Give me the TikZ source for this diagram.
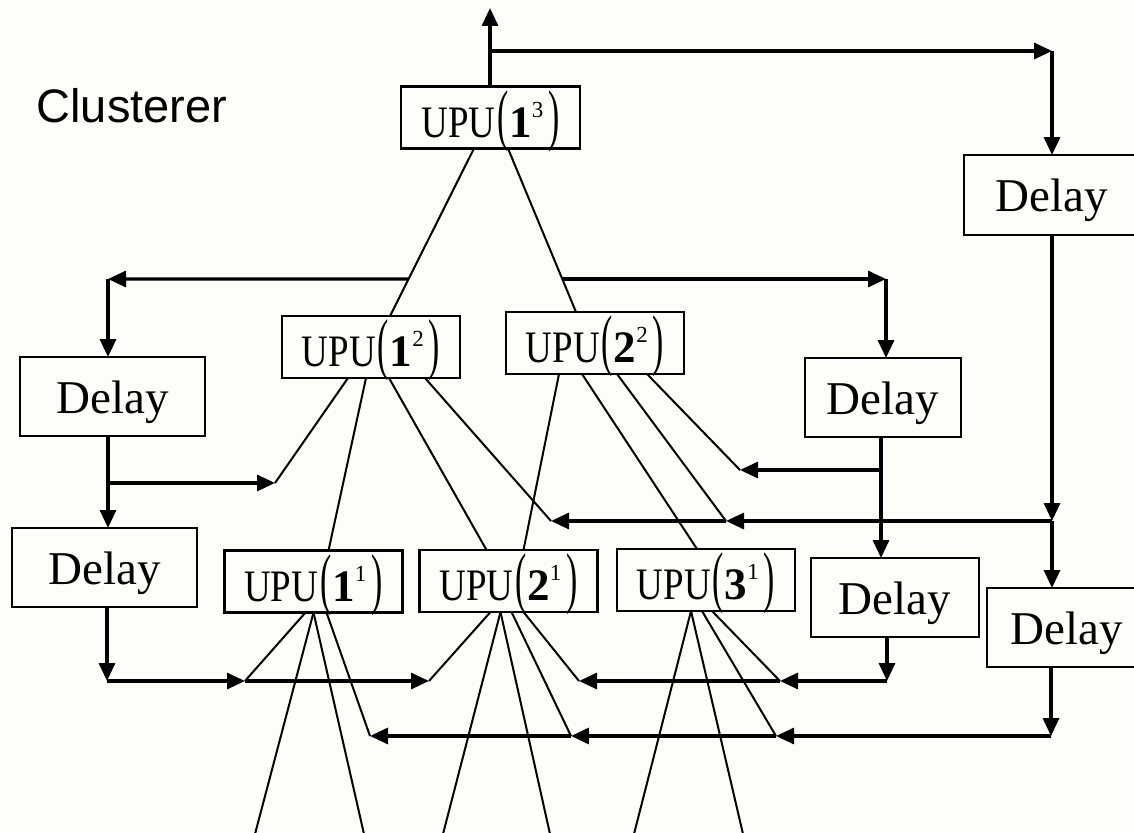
\documentclass[tikz,border=0pt]{standalone}
\usepackage{fontspec}
\setmainfont{Liberation Serif}
\newfontfamily\labelsans{Liberation Sans}
\usetikzlibrary{arrows.meta,calc}

% label of a processing unit: UPU(n^k) with a bold index and tall parentheses
\newcommand\upulabel[2]{%
  \scalebox{0.82}[1]{UPU}\kern2pt
  \scalebox{0.75}[1.5]{(}\kern1pt\textbf{#1}%
  \raisebox{20pt}{\fontsize{23}{23}\selectfont #2}\kern5pt
  \scalebox{0.75}[1.5]{)}}

\definecolor{paper}{RGB}{255,253,248}

\begin{document}
\begin{tikzpicture}[x=1pt,y=-1pt,
  box/.style={draw, line width=2.3pt, inner sep=0pt, outer sep=0pt},
  delaybox/.style={box, font=\fontsize{47}{50}\selectfont,
    text height=33pt, text depth=0pt, minimum height=79pt},
  upubox/.style={box, font=\fontsize{45}{48}\selectfont,
    text height=39pt, text depth=0pt, minimum width=178pt, minimum height=62pt},
  conn/.style={line width=3.2pt, -{Triangle[length=18pt,width=16pt]}},
  link/.style={line width=2pt},
]
\useasboundingbox (0,0) rectangle (1134,832);
\fill[paper] (0,0) rectangle (1134,832);

\node[anchor=base west, font=\labelsans\fontsize{47}{50}\selectfont] (title) at (33,123) {Clusterer};

% processing units
\node[upubox, minimum width=179pt] (u13) at (490.5,117.5) {\upulabel{1}{3}};
\node[upubox] (u12) at (371,347)   {\upulabel{1}{2}};
\node[upubox] (u22) at (595,343)   {\upulabel{2}{2}};
\node[upubox] (u11) at (313.5,581.5) {\upulabel{1}{1}};
\node[upubox] (u21) at (508.5,581) {\upulabel{2}{1}};
\node[upubox] (u31) at (706,580)   {\upulabel{3}{1}};

% delay elements
\node[delaybox, minimum width=176pt, minimum height=80pt] (d0) at (1052,195) {Delay};
\node[delaybox, minimum width=185pt] (d1) at (112.5,396.5) {Delay};
\node[delaybox, minimum width=156pt] (d2) at (883,397.5) {Delay};
\node[delaybox, minimum width=168pt] (d3) at (895,597.5) {Delay};
\node[delaybox, minimum width=160pt] (d4) at (1067,627.5) {Delay};
\node[delaybox, minimum width=185pt] (d5) at (104.5,567.5) {Delay};

% output of the top unit and feedback to the right delay
\coordinate (out) at (490,8);
\coordinate (j0) at (490,51);
\coordinate (c0) at (1052,51);
\draw[conn] (u13.north -| out) -- (out);
\draw[conn] (j0) -- (c0);
\draw[conn] (c0) -- (c0 |- d0.north);

% links from the top unit to the second level
\coordinate (t1) at ([xshift=73pt]u13.south west);
\coordinate (t2) at ([xshift=107pt]u13.south west);
\coordinate (m1) at ([xshift=108pt]u12.north west);
\coordinate (m2) at ([xshift=70pt]u22.north west);
\draw[link] (t1) -- (m1);
\draw[link] (t2) -- (m2);
\path (intersection cs: first line={(t1)--(m1)}, second line={(0,279)--(100,279)}) coordinate (jL);
\path (intersection cs: first line={(t2)--(m2)}, second line={(0,279)--(100,279)}) coordinate (jR);
\coordinate (cL) at (108,279);
\coordinate (cR) at (886,279);
\draw[conn] (jL) -- (cL);
\draw[conn] (cL) -- (cL |- d1.north);
\draw[conn] (jR) -- (cR);
\draw[conn] (cR) -- (cR |- d2.north);

% left delay chain
\coordinate (jD1) at (108,483);
\coordinate (aL) at (275,483);
\draw[conn] (jD1 |- d1.south) -- (jD1 |- d5.north);
\draw[conn] (jD1) -- (aL);

% right delay chain
\coordinate (jD2) at (881,470);
\coordinate (a470) at (740,470);
\draw[conn] (jD2 |- d2.south) -- (jD2 |- d3.north);
\draw[conn] (jD2) -- (a470);

\coordinate (jD0) at (1052,521);
\coordinate (a521M) at (726,521);
\coordinate (a521L) at (551,521);
\draw[conn] (jD0 |- d0.south) -- (jD0);
\draw[conn] (jD0) -- (jD0 |- d4.north);
\draw[conn] (jD0) -- (a521M);
\draw[conn] (a521M) -- (a521L);

% links from the second level
\draw[link] ([xshift=66pt]u12.south west) -- (aL);
\draw[link] ([xshift=84pt]u12.south west) -- ([xshift=104pt]u11.north west);
\draw[link] ([xshift=107pt]u12.south west) -- ([xshift=67pt]u21.north west);
\draw[link] ([xshift=143pt]u12.south west) -- (a521L);
\draw[link] ([xshift=53pt]u22.south west) -- ([xshift=104pt]u21.north west);
\draw[link] ([xshift=76pt]u22.south west) -- ([xshift=80pt]u31.north west);
\draw[link] ([xshift=111pt]u22.south west) -- (a521M);
\draw[link] ([xshift=141pt]u22.south west) -- (a470);

% bottom buses
\coordinate (c5) at (107,681);
\coordinate (a681a) at (245,681);
\coordinate (a681b) at (429,681);
\draw[conn] (c5 |- d5.south) -- (c5);
\draw[conn] (c5) -- (a681a);
\draw[conn] (a681a) -- (a681b);

\coordinate (c3) at (887,681);
\coordinate (a681d) at (780,681);
\coordinate (a681c) at (579,681);
\draw[conn] (c3 |- d3.south) -- (c3);
\draw[conn] (c3) -- (a681d);
\draw[conn] (a681d) -- (a681c);

\coordinate (c4) at (1051,736);
\coordinate (a736R) at (776,736);
\coordinate (a736M) at (571,736);
\coordinate (a736L) at (370,736);
\draw[conn] (c4 |- d4.south) -- (c4);
\draw[conn] (c4) -- (a736R);
\draw[conn] (a736R) -- (a736M);
\draw[conn] (a736M) -- (a736L);

% links from the first level
\coordinate (b1) at (255,834);
\coordinate (b2) at (364,834);
\coordinate (b3) at (443,834);
\coordinate (b4) at (550,834);
\coordinate (b5) at (634,834);
\coordinate (b6) at (743,834);

\draw[link] ([xshift=81pt]u11.south west) -- (a681a);
\draw[link] ([xshift=89pt]u11.south west) -- (b1);
\draw[link] ([xshift=89pt]u11.south west) -- (b2);
\draw[link] ([xshift=102pt]u11.south west) -- (a736L);

\draw[link] ([xshift=71pt]u21.south west) -- (a681b);
\draw[link] ([xshift=81pt]u21.south west) -- (b3);
\draw[link] ([xshift=81pt]u21.south west) -- (b4);
\draw[link] ([xshift=92pt]u21.south west) -- (a736M);
\draw[link] ([xshift=104pt]u21.south west) -- (a681c);

\draw[link] ([xshift=74pt]u31.south west) -- (b5);
\draw[link] ([xshift=74pt]u31.south west) -- (b6);
\draw[link] ([xshift=85pt]u31.south west) -- (a736R);
\draw[link] ([xshift=95pt]u31.south west) -- (a681d);
\end{tikzpicture}
\end{document}
